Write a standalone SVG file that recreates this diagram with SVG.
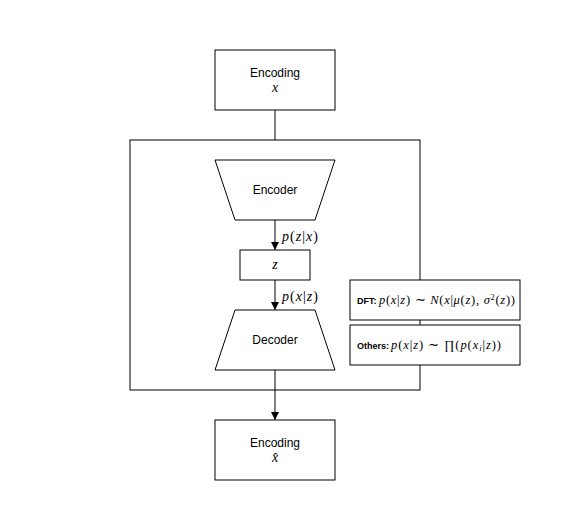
<svg xmlns="http://www.w3.org/2000/svg" width="562" height="532" viewBox="0 0 562 532">
<defs>
<style>
.box{fill:#fff;stroke:#000;stroke-width:1}
.ln{fill:none;stroke:#000;stroke-width:1}
.t{font-family:"Liberation Sans",Arial,sans-serif;font-size:12px;fill:#000;text-anchor:middle}
.m{font-family:"Liberation Serif","Times New Roman",serif;font-size:14px;fill:#000}
.mi{font-style:italic}
.s{font-family:"Liberation Sans",Arial,sans-serif;font-size:9px;font-weight:bold;fill:#000}
.sm{font-family:"Liberation Serif","Times New Roman",serif;font-size:12.5px;fill:#000}
</style>
<marker id="ah" viewBox="0 0 10 10" refX="10" refY="5" markerWidth="8" markerHeight="8" markerUnits="userSpaceOnUse" orient="auto">
<path d="M0,0 L10,5 L0,10 z" fill="#000"/>
</marker>
</defs>
<rect width="562" height="532" fill="#fff"/>
<g id="container">
<rect x="130" y="140" width="290" height="250" class="ln"/>
</g>
<g id="connectors">
<line x1="275" y1="110" x2="275" y2="140" class="ln"/>
<line x1="275" y1="220" x2="275" y2="250" class="ln" marker-end="url(#ah)"/>
<line x1="275" y1="280" x2="275" y2="310" class="ln" marker-end="url(#ah)"/>
<line x1="275" y1="370" x2="275" y2="420" class="ln" marker-end="url(#ah)"/>
<text x="282" y="241" class="m" textLength="36" lengthAdjust="spacing"><tspan class="mi">p</tspan>(<tspan class="mi">z</tspan>|<tspan class="mi">x</tspan>)</text>
<text x="282" y="301" class="m" textLength="36" lengthAdjust="spacing"><tspan class="mi">p</tspan>(<tspan class="mi">x</tspan>|<tspan class="mi">z</tspan>)</text>
</g>
<g id="encoding-x">
<rect x="215" y="50" width="120" height="60" class="box"/>
<text x="275" y="77" class="t">Encoding</text>
<text x="275" y="92" class="m mi" text-anchor="middle" font-size="12">x</text>
</g>
<g id="encoder">
<polygon points="215,160 335,160 315,220 235,220" class="box"/>
<text x="275" y="194" class="t">Encoder</text>
</g>
<g id="z">
<rect x="240" y="250" width="70" height="30" class="box"/>
<text x="275" y="269" class="m mi" text-anchor="middle" font-size="11">z</text>
</g>
<g id="decoder">
<polygon points="235,310 315,310 335,370 215,370" class="box"/>
<text x="275" y="344" class="t">Decoder</text>
</g>
<g id="encoding-xhat">
<rect x="215" y="420" width="120" height="60" class="box"/>
<text x="275" y="447" class="t">Encoding</text>
<text x="275" y="462" class="m mi" text-anchor="middle" font-size="12">x&#770;</text>
</g>
<g id="dft">
<rect x="350" y="280" width="170" height="40" class="box"/>
<text x="357" y="304" class="s">DFT:</text>
<text x="379" y="304" class="sm" textLength="136" lengthAdjust="spacing"><tspan class="mi">p</tspan>(<tspan class="mi">x</tspan>|<tspan class="mi">z</tspan>) ∼ <tspan class="mi">N</tspan>(<tspan class="mi">x</tspan>|<tspan class="mi">μ</tspan>(<tspan class="mi">z</tspan>), <tspan class="mi">σ</tspan><tspan font-size="8.5" dy="-4.5">2</tspan><tspan dy="4.5">(</tspan><tspan class="mi">z</tspan>))</text>
</g>
<g id="others">
<rect x="350" y="325" width="170" height="40" class="box"/>
<text x="357" y="349" class="s">Others:</text>
<text x="391" y="349" class="sm" textLength="110" lengthAdjust="spacing"><tspan class="mi">p</tspan>(<tspan class="mi">x</tspan>|<tspan class="mi">z</tspan>) ∼ ∏(<tspan class="mi">p</tspan>(<tspan class="mi">x</tspan><tspan font-size="8.5" dy="2" class="mi">i</tspan><tspan dy="-2">|</tspan><tspan class="mi">z</tspan>))</text>
</g>
</svg>
